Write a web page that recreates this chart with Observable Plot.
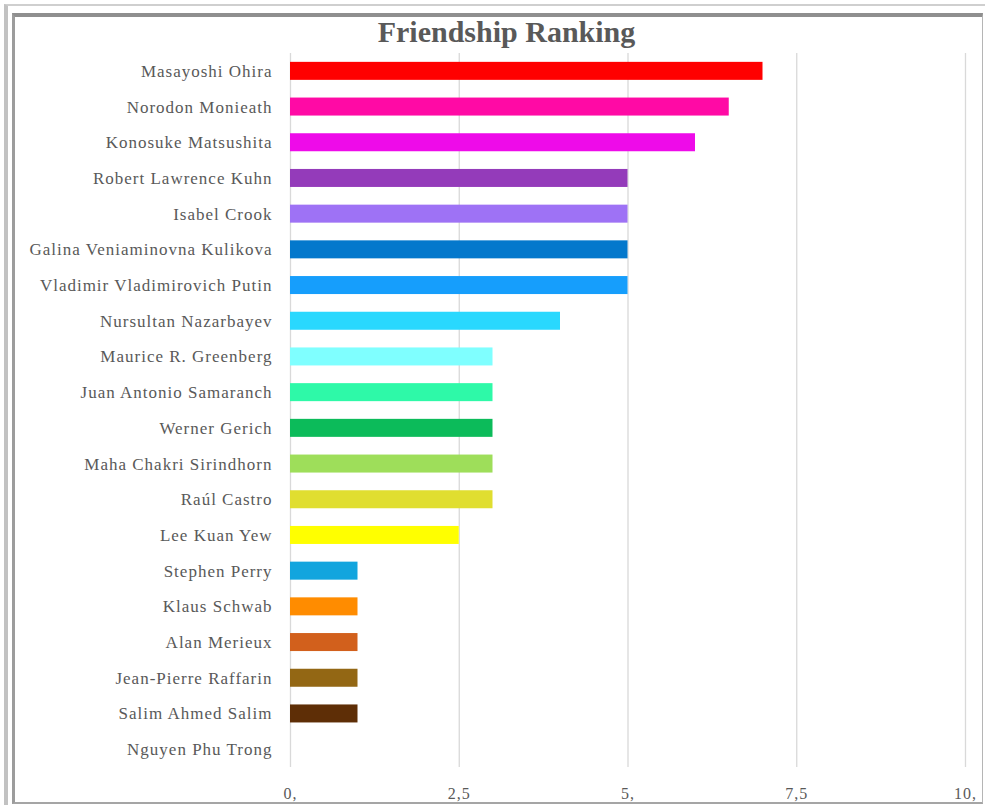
<!DOCTYPE html>
<html>
<head>
<meta charset="utf-8">
<script src="https://cdn.jsdelivr.net/npm/d3@7"></script>
<script src="https://cdn.jsdelivr.net/npm/@observablehq/plot@0.6"></script>
<style>
  html, body { margin: 0; padding: 0; background: #fff; }
  #page { position: relative; width: 985px; height: 807px; overflow: hidden; }
  #outer { position: absolute; left: 4px; top: 4px; width: 981px; height: 801px; box-sizing: border-box;
           border-top: 2px solid #cfcfcf; border-left: 4px solid #c2c2c2; }
  #inner { position: absolute; left: 12px; top: 13px; width: 971px; height: 791px; box-sizing: border-box;
           border-top: 4px solid #8f8f8f; border-left: 3px solid #9c9c9c; border-right: 1px solid #b5b5b5; border-bottom: 2px solid #a5a5a5; }
  #title { position: absolute; left: 0; width: 1013px; top: 15px; text-align: center;
           font-family: "Liberation Serif", serif; font-weight: bold; font-size: 30px; color: #595959; }
  #chart { position: absolute; left: 0; top: 0; }
  #chart svg g[aria-label="y-axis tick label"] text { letter-spacing: 1px; }
  #chart svg g[aria-label="x-axis tick label"] text { letter-spacing: 1px; }
</style>
</head>
<body>
<div id="page">
  <div id="outer"></div>
  <div id="inner"></div>
  <div id="chart"></div>
  <div id="title">Friendship Ranking</div>
</div>
<script>
const names = [
  "Masayoshi Ohira", "Norodon Monieath", "Konosuke Matsushita", "Robert Lawrence Kuhn",
  "Isabel Crook", "Galina Veniaminovna Kulikova", "Vladimir Vladimirovich Putin",
  "Nursultan Nazarbayev", "Maurice R. Greenberg", "Juan Antonio Samaranch", "Werner Gerich",
  "Maha Chakri Sirindhorn", "Raúl Castro", "Lee Kuan Yew", "Stephen Perry", "Klaus Schwab",
  "Alan Merieux", "Jean-Pierre Raffarin", "Salim Ahmed Salim", "Nguyen Phu Trong"
];
const values = [7, 6.5, 6, 5, 5, 5, 5, 4, 3, 3, 3, 3, 3, 2.5, 1, 1, 1, 1, 1, 0];
const colors = [
  "#ff0000", "#ff0aa5", "#ee0be9", "#943bba", "#9e72f5", "#0478cc", "#169efc", "#29d8fe",
  "#7fffff", "#2ef9a8", "#0cbb5a", "#9ede5a", "#e0de30", "#ffff00", "#12a5de", "#ff8c00",
  "#d2601c", "#936714", "#5e2e06", "#ffffff"
];
const tickValues = [0, 2.5, 5, 7.5, 10];
const tickLabels = ["0,", "2,5", "5,", "7,5", "10,"];

const data = names.map((n, i) => ({name: n, value: values[i], color: colors[i]}));

const chart = Plot.plot({
  width: 985,
  height: 807,
  marginLeft: 290,
  marginRight: 20,
  marginTop: 53,
  marginBottom: 40,
  style: {fontFamily: "'Liberation Serif', serif", fontSize: "17px", color: "#595959", background: "transparent"},
  x: {domain: [0, 10], label: null},
  y: {domain: names, padding: 0, round: false, label: null},
  marks: [
    Plot.ruleX(tickValues, {stroke: "#d9d9d9", strokeWidth: 1.3}),
    Plot.barX(data, {x: "value", y: "name", fill: "color", insetTop: 8.85, insetBottom: 8.85}),
    Plot.axisY({tickSize: 0, tickPadding: 18, fontSize: 17, label: null}),
    Plot.axisX({ticks: tickValues, tickSize: 0, tickPadding: 20, fontSize: 16, label: null,
                tickFormat: d => tickLabels[tickValues.indexOf(d)]})
  ]
});
document.getElementById("chart").appendChild(chart);
</script>
</body>
</html>
